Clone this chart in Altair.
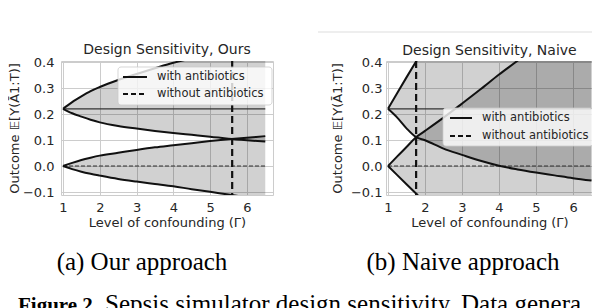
import altair as alt
import pandas as pd

# ---------------- data ----------------
gamma = [1.0, 1.25, 1.5, 1.75, 2.0, 2.5, 3.0, 3.5, 4.0, 4.5, 5.0, 5.5, 6.0, 6.5]

center_with = 0.22
center_without = 0.0

ours_with_upper = [0.220, 0.246, 0.268, 0.288, 0.304, 0.331, 0.354, 0.376, 0.397, 0.414, 0.430, 0.444, 0.456, 0.467]
ours_with_lower = [0.220, 0.203, 0.190, 0.178, 0.168, 0.154, 0.144, 0.135, 0.127, 0.120, 0.113, 0.105, 0.099, 0.094]
ours_without_upper = [0.000, 0.012, 0.023, 0.032, 0.040, 0.051, 0.062, 0.072, 0.080, 0.088, 0.096, 0.103, 0.109, 0.115]
ours_without_lower = [0.000, -0.012, -0.022, -0.030, -0.037, -0.050, -0.060, -0.069, -0.078, -0.089, -0.099, -0.110, -0.120, -0.129]

naive_with_upper = [0.220, 0.281, 0.341, 0.400, 0.458, 0.570, 0.680, 0.790, 0.900, 1.000, 1.100, 1.200, 1.300, 1.400]
naive_with_lower = [0.220, 0.186, 0.145, 0.112, 0.099, 0.067, 0.043, 0.020, 0.001, -0.013, -0.025, -0.036, -0.047, -0.056]
naive_without_upper = [0.000, 0.037, 0.073, 0.110, 0.135, 0.186, 0.240, 0.295, 0.352, 0.405, 0.460, 0.510, 0.560, 0.610]
naive_without_lower = [0.000, -0.035, -0.070, -0.105, -0.140, -0.210, -0.280, -0.350, -0.420, -0.490, -0.560, -0.630, -0.700, -0.770]

design_sensitivity = [5.6, 1.76]
panel_titles = ["Design Sensitivity, Ours", "Design Sensitivity, Naive"]
captions = ["(a) Our approach", "(b) Naive approach"]
legend_labels = ["with antibiotics", "without antibiotics"]
x_ticks = [1, 2, 3, 4, 5, 6]
y_ticks = [-0.1, 0.0, 0.1, 0.2, 0.3, 0.4]
x_title = "Level of confounding (Γ)"
y_title = "Outcome 𝔼[Y(Ā1:T)]"
figure_bold = "Figure 2."
figure_text = "Sepsis simulator design sensitivity. Data genera"

FONT = "DejaVu Sans"
SERIF = "Liberation Serif"
INK = "#262626"
LINE = "#111111"

one = pd.DataFrame({"k": [0]})


def text_layer(t, x, y, **kw):
    return alt.Chart(pd.DataFrame({"t": [t]})).mark_text(**kw).encode(
        x=alt.value(x), y=alt.value(y), text="t:N")


def panel(idx, wl, wu, ol, ou, xmax, width, height, ytitle_x, ylabel_pad, leg, cap_x, title_dy):
    n = len(gamma)
    df = pd.DataFrame({
        "g": gamma, "wl": wl, "wu": wu, "ol": ol, "ou": ou,
        "wc": [center_with] * n, "oc": [center_without] * n,
    })
    xs = alt.Scale(domain=[0.946, xmax], nice=False, zero=False)
    ys = alt.Scale(domain=[-0.1115, 0.404], nice=False, zero=False)
    xaxis = alt.Axis(values=x_ticks, format="d", title=x_title, labelPadding=6,
                     titleY=31, titleBaseline="alphabetic")
    yaxis = alt.Axis(values=y_ticks, format=".1f", title=y_title, labelPadding=ylabel_pad,
                     titleX=ytitle_x, titleBaseline="alphabetic")
    X = alt.X("g:Q", scale=xs, axis=xaxis)

    def Y(f):
        return alt.Y(f, type="quantitative", scale=ys, axis=yaxis)

    base = alt.Chart(df)
    band_w = base.mark_area(color="black", opacity=0.18, clip=True).encode(
        x=X, y=Y("wl"), y2=alt.Y2("wu"))
    band_o = base.mark_area(color="black", opacity=0.18, clip=True).encode(
        x=X, y=Y("ol"), y2=alt.Y2("ou"))
    bounds = base.transform_fold(["wl", "wu", "ol", "ou"], as_=["k", "v"]).mark_line(
        color=LINE, strokeWidth=2, clip=True, interpolate="monotone").encode(
        x=X, y=Y("v:Q"), detail="k:N")
    c_with = base.mark_line(color="#333333", strokeWidth=1.2).encode(x=X, y=Y("wc"))
    c_wo = base.mark_line(color="#333333", strokeWidth=1.2, strokeDash=[4, 2]).encode(x=X, y=Y("oc"))
    vdf = pd.DataFrame({"g": [design_sensitivity[idx]]})
    vline = alt.Chart(vdf).mark_rule(color=LINE, strokeWidth=2.2, strokeDash=[7, 4]).encode(x=X)

    # legend box (framed, semi-transparent, as in the reference)
    bx0, by0, bx1, by1, r1, r2, sx0, sx1, tx = leg
    box = alt.Chart(one).mark_rect(fill="white", fillOpacity=0.8, stroke="#cccccc",
                                   strokeOpacity=0.8, cornerRadius=3).encode(
        x=alt.value(bx0), x2=alt.value(bx1), y=alt.value(by0), y2=alt.value(by1))
    s1 = alt.Chart(one).mark_rule(color=LINE, strokeWidth=2).encode(
        x=alt.value(sx0), x2=alt.value(sx1), y=alt.value(r1))
    s2 = alt.Chart(one).mark_rule(color=LINE, strokeWidth=2, strokeDash=[5, 3]).encode(
        x=alt.value(sx0), x2=alt.value(sx1), y=alt.value(r2))
    lab = dict(align="left", baseline="middle", font=FONT, fontSize=11.5, color=INK)
    ltxt1 = text_layer(legend_labels[0], tx, r1, **lab)
    ltxt2 = text_layer(legend_labels[1], tx, r2, **lab)

    cap = text_layer(captions[idx], cap_x, 209, font=SERIF, fontSize=25, color="black",
                     align="center", baseline="alphabetic")

    layers = [band_w, band_o, c_with, c_wo, bounds, vline, box, s1, s2, ltxt1, ltxt2, cap]

    if idx == 0:
        fb = text_layer(figure_bold, -43, 251, font=SERIF, fontSize=21, fontWeight="bold",
                        color="black", align="left", baseline="alphabetic")
        ft = text_layer(figure_text, 44, 251, font=SERIF, fontSize=25, color="black",
                        align="left", baseline="alphabetic")
        layers += [fb, ft]
    else:
        sep = alt.Chart(one).mark_rule(color="#dddddd", strokeWidth=1).encode(
            x=alt.value(-68), x2=alt.value(230), y=alt.value(-29))
        layers += [sep]

    return alt.layer(*layers).properties(
        width=width, height=height,
        title=alt.Title(panel_titles[idx], font=FONT, fontSize=14, fontWeight="normal",
                        color=INK, offset=2, dy=title_dy),
    )


pa = panel(0, ours_with_lower, ours_with_upper, ours_without_lower, ours_without_upper,
           6.71, 212, 134, -42.5, 7, (57, 6, 211, 44, 16, 33, 62, 86, 96), 81, 3)
pb = panel(1, naive_with_lower, naive_with_upper, naive_without_lower, naive_without_upper,
           6.54, 207, 134, -44.5, 4, (57, 47, 207, 85, 57, 75, 64, 86, 96), 77, 28.5)

chart = alt.hconcat(pa, pb, spacing=113, bounds="flush").properties(
    padding={"left": 53, "top": 53, "right": 531, "bottom": 239},
    autosize=alt.AutoSizeParams(type="none"),
).configure_axis(
    labelFont=FONT, titleFont=FONT, labelFontSize=13, titleFontSize=13,
    labelColor=INK, titleColor=INK, titleFontWeight="normal",
    grid=True, gridColor="#cccccc", gridWidth=1, domain=False, ticks=False, tickSize=0,
).configure_view(stroke="#cccccc", strokeWidth=1)

chart.save("out.html", embed_options={"renderer": "svg", "actions": False})
